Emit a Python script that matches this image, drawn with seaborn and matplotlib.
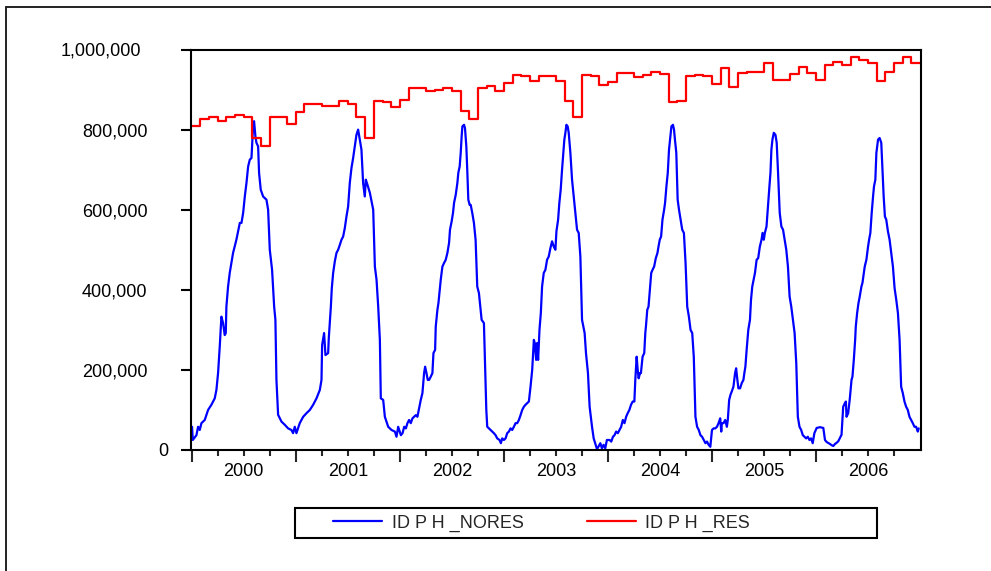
import numpy as np
import pandas as pd
import matplotlib
matplotlib.use("Agg")
import matplotlib.pyplot as plt
import matplotlib.transforms as mtransforms
from matplotlib.lines import Line2D
from matplotlib.patches import Rectangle
from matplotlib.ticker import FuncFormatter
import seaborn as sns

# ---------------- data (values in thousands) ----------------
# ID P H _NORES : (fraction of year, value) per year
nores_2000_f = [0.003, 0.010, 0.045, 0.061, 0.077, 0.093, 0.125, 0.157, 0.189, 0.221, 0.237, 0.253, 0.269, 0.285,
                0.301, 0.317, 0.327, 0.333, 0.349, 0.365, 0.381, 0.397, 0.413, 0.429, 0.446, 0.462, 0.478, 0.494,
                0.510, 0.526, 0.542, 0.558, 0.574, 0.583, 0.590, 0.599, 0.612, 0.622, 0.638, 0.647, 0.663, 0.686,
                0.718, 0.734, 0.750, 0.772, 0.792, 0.804, 0.814, 0.830, 0.862, 0.894, 0.926, 0.958, 0.974, 0.990]
nores_2000_k = [58, 25, 37, 58, 50, 67, 75, 100, 113, 129, 150, 192, 258, 333,
                317, 287, 292, 358, 408, 442, 467, 492, 508, 525, 546, 567, 567, 592,
                633, 667, 708, 725, 729, 775, 812, 821, 783, 767, 758, 692, 650, 633,
                625, 600, 500, 450, 358, 325, 175, 88, 71, 63, 54, 50, 42, 58]

nores_2001_f = [0.006, 0.038, 0.071, 0.103, 0.135, 0.167, 0.199, 0.231, 0.247, 0.253, 0.272, 0.285, 0.311,
                0.317, 0.337, 0.346, 0.359, 0.375, 0.391, 0.407, 0.423, 0.439, 0.455, 0.471, 0.487, 0.503,
                0.519, 0.535, 0.551, 0.567, 0.583, 0.599, 0.615, 0.631, 0.647, 0.663, 0.673, 0.689, 0.712,
                0.744, 0.760, 0.776, 0.792, 0.808, 0.817, 0.840, 0.856, 0.888, 0.920, 0.952, 0.968, 0.984]
nores_2001_k = [42, 67, 83, 92, 100, 113, 129, 150, 175, 262, 292, 237, 242,
                279, 358, 404, 442, 471, 492, 500, 512, 525, 533, 554, 583, 608,
                667, 704, 729, 758, 787, 800, 775, 750, 667, 633, 675, 662, 642,
                600, 458, 425, 358, 275, 129, 125, 83, 58, 50, 46, 33, 58]

nores_2002_f = [0.010, 0.026, 0.042, 0.058, 0.073, 0.089, 0.105, 0.121, 0.137, 0.153, 0.169, 0.185, 0.201, 0.217,
                0.233, 0.243, 0.256, 0.268, 0.281, 0.297, 0.313, 0.323, 0.339, 0.345, 0.361, 0.371, 0.377, 0.393,
                0.409, 0.425, 0.441, 0.457, 0.473, 0.482, 0.498, 0.511, 0.521, 0.537, 0.553, 0.562, 0.575, 0.585,
                0.594, 0.601, 0.617, 0.626, 0.639, 0.649, 0.658, 0.671, 0.681, 0.696, 0.712, 0.728, 0.744, 0.760,
                0.786, 0.808, 0.818, 0.831, 0.840, 0.872, 0.904, 0.920, 0.936, 0.958, 0.971, 0.984]
nores_2002_k = [37, 42, 58, 54, 67, 75, 67, 79, 83, 87, 83, 104, 125, 142,
                192, 208, 192, 175, 175, 183, 192, 242, 250, 308, 350, 367, 383, 425,
                458, 467, 475, 492, 517, 550, 571, 592, 617, 637, 667, 692, 708, 742,
                783, 808, 812, 804, 758, 692, 625, 612, 612, 592, 567, 525, 408, 392,
                325, 317, 225, 100, 58, 50, 42, 37, 29, 25, 17, 29]

nores_2003_f = [0.000, 0.016, 0.032, 0.048, 0.064, 0.080, 0.096, 0.112, 0.128, 0.144, 0.160, 0.176, 0.192,
                0.208, 0.224, 0.240, 0.256, 0.272, 0.288, 0.297, 0.310, 0.319, 0.329, 0.342, 0.355, 0.367,
                0.383, 0.399, 0.415, 0.431, 0.447, 0.463, 0.479, 0.495, 0.505, 0.521, 0.533, 0.546, 0.559,
                0.569, 0.581, 0.591, 0.601, 0.613, 0.623, 0.639, 0.655, 0.677, 0.687, 0.703, 0.719, 0.735,
                0.751, 0.776, 0.789, 0.808, 0.824, 0.847, 0.863, 0.895, 0.927, 0.942, 0.958, 0.974, 0.990]
nores_2003_k = [25, 29, 42, 46, 54, 50, 58, 67, 67, 75, 87, 100, 108,
                113, 117, 121, 158, 200, 275, 267, 225, 267, 225, 300, 342, 408,
                442, 450, 475, 483, 504, 521, 508, 500, 546, 575, 617, 650, 700,
                733, 775, 792, 812, 808, 792, 742, 675, 617, 592, 550, 542, 483,
                325, 292, 242, 192, 108, 58, 29, 2, 17, 4, 13, 4, 25]

nores_2004_f = [0.016, 0.032, 0.048, 0.063, 0.079, 0.095, 0.111, 0.127, 0.143, 0.159, 0.175, 0.190, 0.206, 0.222,
                0.238, 0.254, 0.263, 0.276, 0.286, 0.295, 0.308, 0.317, 0.333, 0.349, 0.359, 0.365, 0.378, 0.390,
                0.403, 0.416, 0.429, 0.444, 0.460, 0.476, 0.486, 0.498, 0.511, 0.524, 0.540, 0.549, 0.562, 0.575,
                0.587, 0.597, 0.610, 0.625, 0.635, 0.644, 0.657, 0.670, 0.683, 0.698, 0.714, 0.730, 0.746, 0.762,
                0.778, 0.794, 0.810, 0.825, 0.841, 0.857, 0.873, 0.889, 0.905, 0.921, 0.937, 0.952, 0.968, 0.984]
nores_2004_k = [25, 21, 33, 37, 46, 42, 50, 58, 75, 67, 83, 92, 100, 113,
                121, 121, 175, 233, 200, 179, 192, 192, 233, 242, 292, 308, 350, 358,
                400, 442, 450, 458, 479, 492, 508, 525, 533, 575, 600, 617, 658, 692,
                750, 775, 808, 812, 800, 775, 742, 625, 600, 575, 550, 542, 467, 358,
                333, 300, 292, 233, 83, 58, 50, 37, 33, 25, 17, 21, 13, 8]

nores_2005_f = [0.000, 0.016, 0.032, 0.048, 0.063, 0.079, 0.089, 0.095, 0.111, 0.127, 0.143, 0.152, 0.165, 0.178,
                0.190, 0.206, 0.222, 0.232, 0.244, 0.254, 0.270, 0.286, 0.302, 0.311, 0.321, 0.333, 0.349, 0.365,
                0.375, 0.387, 0.400, 0.413, 0.429, 0.444, 0.460, 0.476, 0.486, 0.498, 0.508, 0.524, 0.540, 0.552,
                0.562, 0.571, 0.581, 0.594, 0.610, 0.622, 0.635, 0.651, 0.667, 0.683, 0.698, 0.714, 0.730, 0.746,
                0.762, 0.778, 0.794, 0.810, 0.825, 0.841, 0.857, 0.873, 0.889, 0.905, 0.921, 0.937, 0.952, 0.968, 0.984]
nores_2005_k = [50, 54, 54, 58, 67, 79, 46, 67, 67, 75, 58, 75, 125, 138,
                146, 158, 192, 204, 175, 154, 154, 167, 175, 192, 208, 250, 300, 325,
                375, 408, 425, 442, 475, 479, 508, 525, 542, 525, 542, 558, 617, 658,
                692, 750, 775, 792, 787, 767, 692, 592, 558, 550, 525, 500, 458, 383,
                358, 325, 292, 217, 83, 58, 50, 37, 33, 29, 33, 25, 29, 17, 42]

nores_2006_f = [0.006, 0.038, 0.070, 0.086, 0.102, 0.134, 0.150, 0.166, 0.182, 0.198, 0.214, 0.229, 0.245, 0.261,
                0.277, 0.287, 0.293, 0.309, 0.325, 0.341, 0.350, 0.363, 0.376, 0.382, 0.395, 0.408, 0.420, 0.436,
                0.446, 0.459, 0.468, 0.484, 0.500, 0.510, 0.522, 0.535, 0.548, 0.557, 0.570, 0.580, 0.596, 0.611,
                0.627, 0.637, 0.650, 0.662, 0.675, 0.691, 0.707, 0.723, 0.739, 0.755, 0.771, 0.787, 0.803, 0.818,
                0.834, 0.850, 0.866, 0.882, 0.898, 0.914, 0.930, 0.946, 0.962, 0.978, 0.987]
nores_2006_k = [55, 57, 55, 25, 20, 15, 12, 10, 15, 18, 22, 30, 38, 108,
                117, 121, 83, 92, 129, 175, 183, 225, 275, 308, 342, 367, 383, 408,
                417, 442, 458, 475, 508, 525, 542, 592, 633, 658, 675, 742, 775, 779,
                767, 708, 633, 583, 575, 546, 525, 492, 458, 404, 375, 342, 275, 158,
                142, 121, 108, 100, 83, 75, 67, 58, 58, 46, 54]

# ID P H _RES : monthly values Jan 2000 .. Dec 2006
res_k = [808, 827, 831, 821, 831, 837, 831, 778, 758, 831, 831, 815,
         843, 864, 864, 860, 860, 871, 864, 831, 779, 871, 868, 856,
         873, 904, 904, 896, 900, 904, 896, 847, 827, 904, 908, 896,
         917, 937, 933, 921, 933, 933, 921, 871, 831, 937, 935, 912,
         918, 942, 942, 931, 937, 943, 939, 868, 871, 935, 937, 933,
         914, 954, 907, 942, 944, 944, 967, 923, 923, 940, 957, 942,
         925, 962, 968, 962, 981, 975, 967, 922, 944, 967, 981, 967]

years = [2000, 2001, 2002, 2003, 2004, 2005, 2006]
y_ticks = [0, 200000, 400000, 600000, 800000, 1000000]
labels = ["ID P H _NORES", "ID P H _RES"]

# ---------------- build tables ----------------
nores_f = [nores_2000_f, nores_2001_f, nores_2002_f, nores_2003_f, nores_2004_f, nores_2005_f, nores_2006_f]
nores_k = [nores_2000_k, nores_2001_k, nores_2002_k, nores_2003_k, nores_2004_k, nores_2005_k, nores_2006_k]
rows_t, rows_v = [], []
for yr, fs, ks in zip(years, nores_f, nores_k):
    assert len(fs) == len(ks), (yr, len(fs), len(ks))
    rows_t += [yr + f for f in fs]
    rows_v += [k * 1000 for k in ks]
df_nores = pd.DataFrame({"date": rows_t, "value": rows_v})

res_t = [2000 + m / 12 for m in range(len(res_k) + 1)]
res_v = [k * 1000 for k in res_k] + [res_k[-1] * 1000]
df_res = pd.DataFrame({"date": res_t, "value": res_v})

# ---------------- figure ----------------
sns.set_style("ticks")
plt.rcParams["font.family"] = ["Liberation Sans", "DejaVu Sans"]

W, H = 991, 571
fig = plt.figure(figsize=(W / 100, H / 100), dpi=100)
ax = fig.add_axes([190.5 / W, 1 - 450 / H, (920.5 - 190.5) / W, (450 - 49.5) / H])

sns.lineplot(data=df_nores, x="date", y="value", ax=ax, color="#0000FF", linewidth=1.6,
             sort=True, estimator=None)
sns.lineplot(data=df_res, x="date", y="value", ax=ax, color="#FF0000", linewidth=1.6,
             drawstyle="steps-post", sort=True, estimator=None)

ax.set_xlim(1999.988, 2007.004)
ax.set_ylim(0, 1000000)
ax.set_xlabel("")
ax.set_ylabel("")

for s in ax.spines.values():
    s.set_linewidth(1.5)
    s.set_color("black")

ax.set_yticks(y_ticks)
ax.yaxis.set_major_formatter(FuncFormatter(lambda v, p: f"{int(v):,}"))
ax.tick_params(axis="y", which="major", direction="out", length=7.2, width=1.5,
               pad=23.8, labelsize=13, colors="black")

ax.set_xticks(years)
ax.set_xticklabels([])
ax.set_xticks([y + q for y in years for q in (0.25, 0.5, 0.75)], minor=True)
ax.tick_params(axis="x", which="major", direction="out", length=8.6, width=1.5)
ax.tick_params(axis="x", which="minor", direction="out", length=4.3, width=1.5)

for yr in years:
    ax.annotate(str(yr), xy=(yr + 0.5, 0), xycoords=("data", "axes fraction"),
                xytext=(0, -15.8), textcoords="offset points",
                ha="center", va="center", fontsize=13, color="black")

# individual offsets of y tick labels as in the reference
ticks = ax.yaxis.get_major_ticks()
shifts = {0: 21, 5: -6}
for i, dx in shifts.items():
    lab = ticks[i].label1
    lab.set_transform(lab.get_transform() +
                      mtransforms.ScaledTranslation(dx / 100, 0, fig.dpi_scale_trans))

# legend
handles = [Line2D([], [], color="#0000FF", lw=1.6), Line2D([], [], color="#FF0000", lw=1.6)]
fig.legend(handles, labels, loc="center left", bbox_to_anchor=(333 / W, 1 - 523 / H),
           ncol=2, frameon=False, fontsize=13, handlelength=2.7, handletextpad=0.55,
           columnspacing=3.5, borderpad=0, borderaxespad=0)
fig.add_artist(Rectangle((295 / W, 1 - 538 / H), 582 / W, 30 / H, transform=fig.transFigure,
                         fill=False, edgecolor="black", linewidth=1.5))

# outer frame (top and left edges visible)
fig.add_artist(Line2D([6 / W, 1.0], [1 - 7 / H, 1 - 7 / H], transform=fig.transFigure,
                      color="#222222", lw=1.4))
fig.add_artist(Line2D([6 / W, 6 / W], [1 - 7 / H, 0.0], transform=fig.transFigure,
                      color="#222222", lw=1.4))

fig.savefig("out.png", dpi=100)
